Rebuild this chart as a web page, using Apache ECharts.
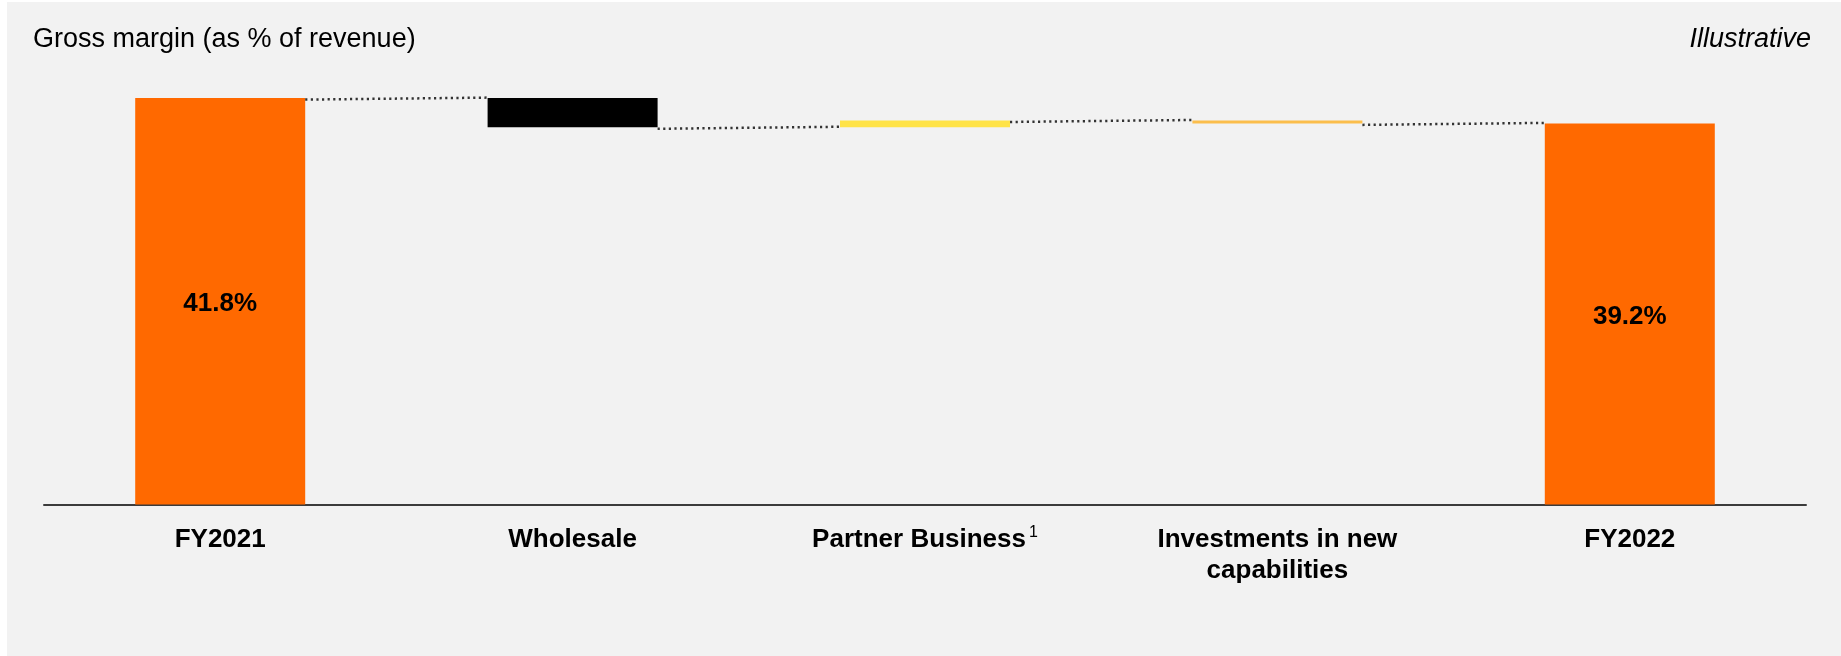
<!DOCTYPE html>
<html>
<head>
<meta charset="utf-8">
<script src="https://cdn.jsdelivr.net/npm/echarts@6/dist/echarts.min.js"></script>
<style>
  html, body { margin: 0; padding: 0; background: #ffffff; }
  #chart { position: absolute; left: 7px; top: 2px; width: 1834px; height: 654px; background: #f2f2f2; }
</style>
</head>
<body>
<div id="chart"></div>
<script>
// ---- data ----
const categories = ['FY2021', 'Wholesale', 'Partner Business', 'Investments in new\ncapabilities', 'FY2022'];
const isTotal = [true, false, false, false, true];
const values = [41.8, -3.0, 0.7, -0.3, 39.2];
const valueLabels = ['41.8%', '', '', '', '39.2%'];
const titleText = 'Gross margin (as % of revenue)';
const noteText = 'Illustrative';

// ---- styles ----
const barColors = ['#FF6900', '#000000', '#FFE347', '#FBBE4C', '#FF6900'];
const FONT = "'Liberation Sans', Arial, Helvetica, sans-serif";

// derive waterfall base / height / levels
const bases = [], heights = [], levelsAfter = [];
let running = 0;
values.forEach((v, i) => {
  if (isTotal[i]) {
    bases.push(0); heights.push(v); running = v;
  } else {
    const next = running + v;
    bases.push(Math.min(running, next));
    heights.push(Math.abs(v));
    running = next;
  }
  levelsAfter.push(+running.toFixed(2));
});
// connector data: [fromIndex, level]
const connectors = [];
for (let i = 0; i < values.length - 1; i++) connectors.push([i, levelsAfter[i]]);

const chart = echarts.init(document.getElementById('chart'), null, { renderer: 'canvas' });
const GRID_LEFT = 37, GRID_WIDTH = 1762, BAR_W = 170;

chart.setOption({
  backgroundColor: '#f2f2f2',
  animation: false,
  textStyle: { fontFamily: FONT },
  title: [
    { text: titleText, left: 21, top: 19, textStyle: { fontFamily: FONT, fontSize: 27, fontWeight: 'normal', color: '#000' } },
    { text: noteText, right: 25, top: 19, textStyle: { fontFamily: FONT, fontSize: 27, fontWeight: 'normal', fontStyle: 'italic', color: '#000' } }
  ],
  grid: { left: GRID_LEFT, width: GRID_WIDTH, top: 65, height: 437.5, containLabel: false },
  xAxis: {
    type: 'category',
    data: categories,
    axisLine: { show: true, lineStyle: { color: '#3c3c3c', width: 2 } },
    axisTick: { show: false },
    axisLabel: {
      interval: 0,
      margin: 20,
      color: '#000',
      fontFamily: FONT,
      fontSize: 26,
      fontWeight: 'bold',
      lineHeight: 31,
      formatter: function (v) {
        if (v === 'Partner Business') return '{b|Partner Business}{sup|1}';
        return v;
      },
      rich: {
        b: { fontFamily: FONT, fontSize: 26, fontWeight: 'bold', color: '#000', lineHeight: 31 },
        sup: { fontFamily: FONT, fontSize: 16, fontWeight: 'normal', color: '#000', verticalAlign: 'top', padding: [0, 0, 12, 3], lineHeight: 31 }
      }
    }
  },
  yAxis: {
    type: 'value', min: 0, max: 45, show: false,
    splitLine: { show: false }
  },
  series: [
    {
      name: 'base', type: 'bar', stack: 'wf', barWidth: BAR_W,
      itemStyle: { color: 'transparent' },
      emphasis: { disabled: true },
      data: bases
    },
    {
      name: 'value', type: 'bar', stack: 'wf', barWidth: BAR_W,
      emphasis: { disabled: true },
      data: heights.map((h, i) => ({ value: h, itemStyle: { color: barColors[i] } })),
      label: {
        show: true, position: 'inside', offset: [0, 3],
        formatter: p => valueLabels[p.dataIndex],
        color: '#000', fontFamily: FONT, fontSize: 26, fontWeight: 'bold'
      }
    },
    {
      name: 'connectors', type: 'custom',
      silent: true, z: 5,
      data: connectors,
      renderItem: function (params, api) {
        const i = api.value(0), lvl = api.value(1);
        const p1 = api.coord([i, lvl]);
        const p2 = api.coord([i + 1, lvl]);
        const half = BAR_W / 2;
        return {
          type: 'line',
          shape: { x1: p1[0] + half, y1: p1[1] + 1.5, x2: p2[0] - half, y2: p2[1] - 0.5 },
          style: { stroke: '#333333', lineWidth: 2.5, lineDash: [2.2, 3.4] }
        };
      }
    }
  ]
});
</script>
</body>
</html>
